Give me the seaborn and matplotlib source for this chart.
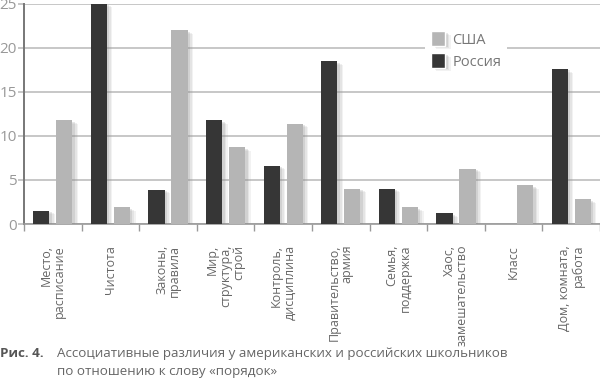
import pandas as pd
import matplotlib
matplotlib.use("Agg")
import matplotlib.pyplot as plt
import matplotlib.patheffects as pe
from matplotlib.patches import Patch
import seaborn as sns

# ---- data ----
categories = [
    "Место,\nрасписание", "Чистота", "Законы,\nправила", "Мир,\nструктура,\nстрой",
    "Контроль,\nдисциплина", "Правительство,\nармия", "Семья,\nподдержка",
    "Хаос,\nзамешательство", "Класс", "Дом, комната,\nработа",
]
russia = [1.5, 25.0, 3.9, 11.8, 6.6, 18.5, 4.0, 1.2, 0.0, 17.6]
usa = [11.8, 1.9, 22.0, 8.7, 11.4, 4.0, 1.9, 6.3, 4.4, 2.8]
series = ["Россия", "США"]
colors = {"Россия": "#363636", "США": "#b5b5b5"}

df = pd.DataFrame({
    "cat": categories * 2,
    "val": russia + usa,
    "country": ["Россия"] * len(russia) + ["США"] * len(usa),
})

sns.set_theme(style="white")
plt.rcParams["font.family"] = ["Open Sans", "DejaVu Sans"]

fig = plt.figure(figsize=(6, 3.82), dpi=100)
ax = fig.add_axes([0.04, 0.4136, 0.96, 0.576])

sns.barplot(data=df, x="cat", y="val", hue="country", hue_order=series,
            palette=colors, width=0.8, gap=0.3, saturation=1, ax=ax,
            legend=False, zorder=3)

# soft drop shadow, built from a few faint offset copies
shadow = [pe.SimplePatchShadow(offset=(4, -2.5), shadow_rgbFace="#999999", alpha=0.12),
          pe.SimplePatchShadow(offset=(3, -1.8), shadow_rgbFace="#999999", alpha=0.15),
          pe.SimplePatchShadow(offset=(1.8, -1), shadow_rgbFace="#888888", alpha=0.2),
          pe.Normal()]
for p in ax.patches:
    p.set_linewidth(0)
    p.set_path_effects(shadow)

ax.set_ylim(0, 25)
ax.set_xlim(-0.5, len(categories) - 0.5)
ax.set_yticks([0, 5, 10, 15, 20, 25])
ax.yaxis.grid(True, color="#bdbdbd", linewidth=1.2, zorder=0)
ax.set_axisbelow(True)
ax.set_xlabel("")
ax.set_ylabel("")

for s in ["top", "right"]:
    ax.spines[s].set_visible(False)
ax.spines["left"].set_color("#777777")
ax.spines["left"].set_linewidth(1.4)
ax.spines["bottom"].set_color("#999999")
ax.spines["bottom"].set_linewidth(1.2)

ax.tick_params(axis="y", left=True, length=4, width=1.2, color="#bdbdbd",
               labelsize=11, labelcolor="#999999", pad=1)
ax.set_xticks(range(len(categories)))
# rotated 90 deg: 'right' multialignment lines the text ends up at the top
ax.set_xticklabels(categories, rotation=90, fontsize=9, color="#666666",
                   va="top", ha="center", multialignment="right",
                   linespacing=1.0)
ax.tick_params(axis="x", which="major", bottom=False, pad=9)
ax.set_xticks([i + 0.5 for i in range(-1, len(categories))], minor=True)
ax.tick_params(axis="x", which="minor", bottom=True, length=5, width=1,
               color="#999999")

handles = [Patch(facecolor=colors["США"], path_effects=shadow),
           Patch(facecolor=colors["Россия"], path_effects=shadow)]
leg = ax.legend(handles, ["США", "Россия"], loc="upper left",
                bbox_to_anchor=(0.683, 0.935), frameon=True, facecolor="white",
                edgecolor="none", framealpha=1, fontsize=10.5,
                handlelength=1.0, handleheight=1.15, handletextpad=0.5,
                labelspacing=0.4, borderpad=0.4)
for t in leg.get_texts():
    t.set_color("#777777")
leg.set_zorder(5)

fig.text(0.0, 1 - 357 / 382, "Рис. 4.", fontsize=9.6, fontweight="bold",
         color="#555555", va="baseline", ha="left")
fig.text(0.095, 1 - 357 / 382,
         "Ассоциативные различия у американских и российских школьников",
         fontsize=9.6, color="#666666", va="baseline", ha="left")
fig.text(0.095, 1 - 375 / 382, "по отношению к слову «порядок»",
         fontsize=9.6, color="#666666", va="baseline", ha="left")

fig.savefig("out.png", dpi=100)
